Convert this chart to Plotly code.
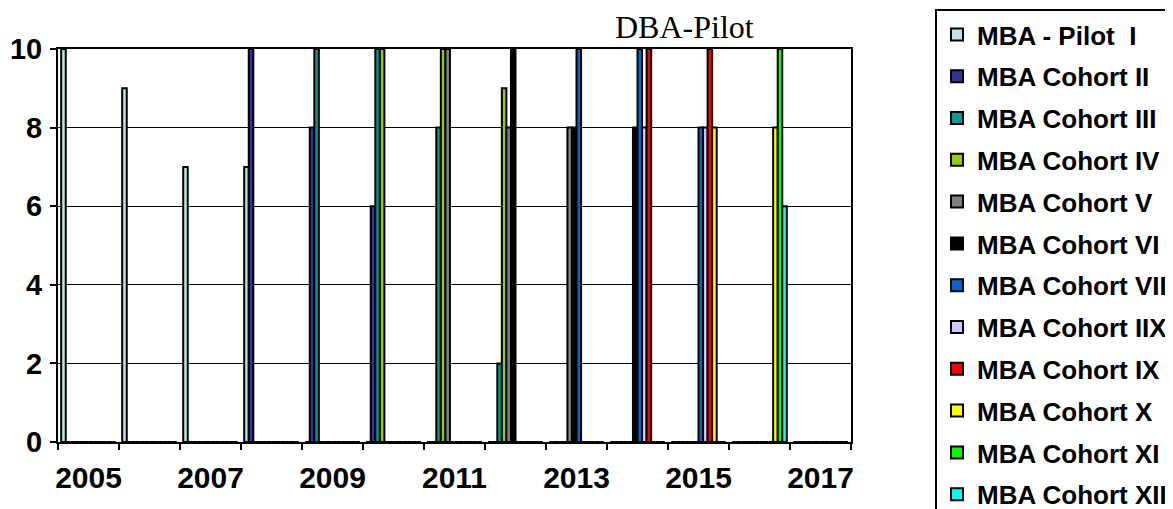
import plotly.graph_objects as go

# ---- data ----
years = [2005, 2006, 2007, 2008, 2009, 2010, 2011, 2012, 2013, 2014, 2015, 2016, 2017]
x_label_years = [2005, 2007, 2009, 2011, 2013, 2015, 2017]
y_ticks = [0, 2, 4, 6, 8, 10]

series_names = [
    "MBA - Pilot  I", "MBA Cohort II", "MBA Cohort III", "MBA Cohort IV",
    "MBA Cohort V", "MBA Cohort VI", "MBA Cohort VII", "MBA Cohort IIX",
    "MBA Cohort IX", "MBA Cohort X", "MBA Cohort XI", "MBA Cohort XII",
]
pilot_i    = [10, 9, 7, 7, 0, 0, 0, 0, 0, 0, 0, 0, 0]
cohort_ii  = [0, 0, 0, 10, 8, 6, 0, 0, 0, 0, 0, 0, 0]
cohort_iii = [0, 0, 0, 0, 10, 10, 8, 2, 0, 0, 0, 0, 0]
cohort_iv  = [0, 0, 0, 0, 0, 10, 10, 9, 0, 0, 0, 0, 0]
cohort_v   = [0, 0, 0, 0, 0, 0, 10, 8, 8, 0, 0, 0, 0]
cohort_vi  = [0, 0, 0, 0, 0, 0, 0, 10, 8, 8, 0, 0, 0]
cohort_vii = [0, 0, 0, 0, 0, 0, 0, 0, 10, 10, 8, 0, 0]
cohort_iix = [0, 0, 0, 0, 0, 0, 0, 0, 0, 8, 8, 0, 0]
cohort_ix  = [0, 0, 0, 0, 0, 0, 0, 0, 0, 10, 10, 0, 0]
cohort_x   = [0, 0, 0, 0, 0, 0, 0, 0, 0, 0, 8, 8, 0]
cohort_xi  = [0, 0, 0, 0, 0, 0, 0, 0, 0, 0, 0, 10, 0]
cohort_xii = [0, 0, 0, 0, 0, 0, 0, 0, 0, 0, 0, 6, 0]

series_values = [pilot_i, cohort_ii, cohort_iii, cohort_iv, cohort_v, cohort_vi,
                 cohort_vii, cohort_iix, cohort_ix, cohort_x, cohort_xi, cohort_xii]

colors = ["#BFE3E6", "#333399", "#009999", "#99CC00", "#808080", "#000000",
          "#0066CC", "#CCCCFF", "#FF0000", "#FFFF00", "#00FF00", "#00FFFF"]

title_text = "DBA-Pilot"

# ---- figure (page body adds an 8px offset) ----
W, H = 1165, 501
ml, mr, mt, mb = 50, 322, 41, 67
pw = W - ml - mr
ph = H - mt - mb

fig = go.Figure()
for i, (name, vals) in enumerate(zip(series_names, series_values)):
    fig.add_trace(go.Bar(
        x=years, y=vals, name=name, legendgroup=f"g{i}",
        marker=dict(color=colors[i], line=dict(color="black", width=2)),
    ))

axis_font = dict(family="Liberation Sans", size=30, color="black", weight="bold")

fig.update_layout(
    width=W, height=H,
    margin=dict(l=ml, r=mr, t=mt, b=mb, autoexpand=False),
    paper_bgcolor="white", plot_bgcolor="white",
    barmode="group", bargap=0.105, bargroupgap=0,
    showlegend=True,
    legend=dict(
        x=(927 - ml) / pw, y=(H - mb - 1) / ph, xanchor="left", yanchor="top",
        bordercolor="black", borderwidth=2, bgcolor="white",
        font=dict(family="Liberation Sans", size=26, color="black", weight="bold"),
        tracegroupgap=5, maxheight=800,
    ),
    xaxis=dict(
        range=[years[0] - 0.5, years[-1] + 0.5],
        tickmode="array", tickvals=x_label_years,
        ticktext=[str(y) for y in x_label_years],
        ticks="", showgrid=False, zeroline=False,
        showline=True, linecolor="black", linewidth=2, mirror=True,
        tickfont=axis_font, ticklabelstandoff=8,
        minor=dict(tickmode="array",
                   tickvals=[y - 0.5 for y in years] + [years[-1] + 0.5],
                   ticks="outside", ticklen=6, tickcolor="black", tickwidth=1.5,
                   showgrid=False),
    ),
    yaxis=dict(
        range=[0, 10], tickmode="array", tickvals=y_ticks,
        ticks="outside", ticklen=6, tickcolor="black", tickwidth=1.5,
        showgrid=True, gridcolor="black", gridwidth=1.2, zeroline=False,
        showline=True, linecolor="black", linewidth=2, mirror=True,
        tickfont=dict(family="Liberation Sans", size=29, color="black", weight="bold"),
        ticklabelstandoff=2,
    ),
    annotations=[dict(
        text=title_text, xref="paper", yref="paper",
        x=(676 - ml) / pw, y=(H - mb - 19) / ph, xanchor="center", yanchor="middle",
        showarrow=False,
        font=dict(family="Liberation Serif", size=32, color="black"),
    )],
)

fig.write_html("out.html")
